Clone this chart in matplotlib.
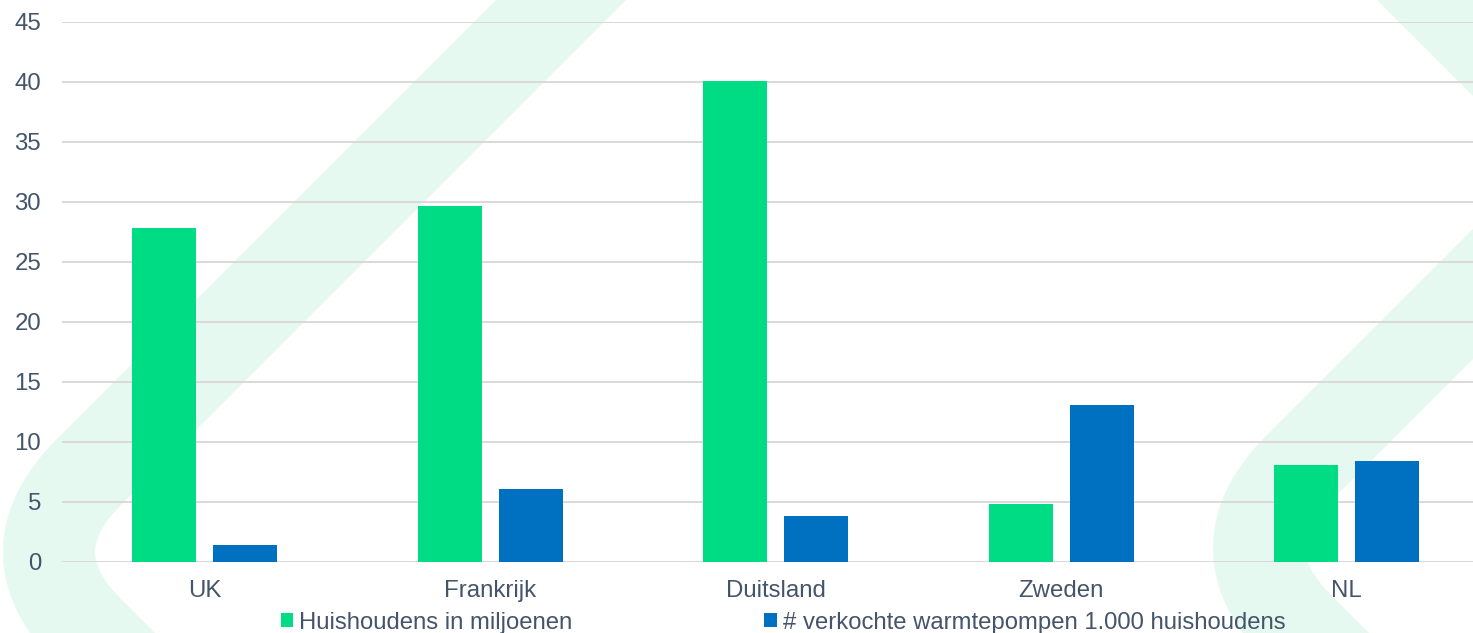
import matplotlib
matplotlib.use('Agg')
import matplotlib.pyplot as plt
from matplotlib.patches import Polygon
import numpy as np

plt.rcParams['font.family'] = ['Liberation Sans', 'DejaVu Sans']

countries = ['UK', 'Frankrijk', 'Duitsland', 'Zweden', 'NL']
households = [27.8, 29.7, 40.1, 4.8, 8.1]
heatpumps = [1.4, 6.1, 3.8, 13.1, 8.4]
labels = ['Huishoudens in miljoenen', '# verkochte warmtepompen 1.000 huishoudens']

green = '#00DC84'
blue = '#0070C0'
band = '#E6F9F0'
text_col = '#44546A'
grid_col = '#D9D9D9'

W, H = 1473, 633
fig = plt.figure(figsize=(W / 100, H / 100), dpi=100)
fig.patch.set_facecolor('white')

# decorative background bands, drawn in pixel space as filled shapes
bg = fig.add_axes([0, 0, 1, 1], zorder=0)
bg.set_xlim(0, W)
bg.set_ylim(H, 0)
bg.axis('off')
half = 46


def band_shape(pts):
    pts = np.asarray(pts, float)
    d = np.gradient(pts, axis=0)
    d /= np.hypot(d[:, 0], d[:, 1])[:, None]
    n = np.column_stack([-d[:, 1], d[:, 0]])
    outline = np.vstack([pts + half * n, (pts - half * n)[::-1]])
    bg.add_patch(Polygon(outline, closed=True, facecolor=band, edgecolor='none'))


def chevron(cx, cy, a, L):
    s = np.linspace(L, a, 40)
    up = np.column_stack([cx + s, cy - s])
    t = np.linspace(0, 1, 60)[:, None]
    p0, p1, p2 = np.array([cx + a, cy - a]), np.array([cx, cy]), np.array([cx + a, cy + a])
    curve = (1 - t) ** 2 * p0 + 2 * (1 - t) * t * p1 + t ** 2 * p2
    down = np.column_stack([cx + s[::-1], cy + s[::-1]])
    band_shape(np.vstack([up[:-1], curve, down[1:]]))


chevron(9, 552, 80, 700)
chevron(1219, 548, 80, 400)
bg.add_patch(Polygon([(1377, 0), (1600, 223), (1600, 0)], closed=True,
                     facecolor=band, edgecolor='none'))

# main chart
ax = fig.add_axes([62 / W, 1 - 562 / H, 1427.5 / W, 540 / H], zorder=1)
ax.patch.set_alpha(0)

x = np.arange(len(countries))
w = 0.224
off = 0.142
ax.bar(x - off, households, w, color=green, label=labels[0], zorder=3)
ax.bar(x + off, heatpumps, w, color=blue, label=labels[1], zorder=3)

ax.set_xlim(-0.5, len(countries) - 0.5)
ax.set_ylim(0, 45)
ax.set_yticks(np.arange(0, 46, 5))
ax.set_xticks(x)
ax.set_xticklabels(countries)
ax.yaxis.grid(True, color=grid_col, lw=1.4, zorder=0)
ax.set_axisbelow(True)
for sp in ax.spines.values():
    sp.set_visible(False)
ax.tick_params(axis='both', length=0, labelsize=17.3, labelcolor=text_col)
ax.tick_params(axis='y', pad=15)
ax.tick_params(axis='x', pad=13)

leg = ax.legend(loc='upper center', bbox_to_anchor=(0.505, -0.092), ncol=2,
                frameon=False, fontsize=17.2, handlelength=0.54, handleheight=0.54,
                handletextpad=0.25, columnspacing=8.0, borderpad=0, borderaxespad=0)
for txt in leg.get_texts():
    txt.set_color(text_col)

fig.savefig('out.png', dpi=100, facecolor='white')
